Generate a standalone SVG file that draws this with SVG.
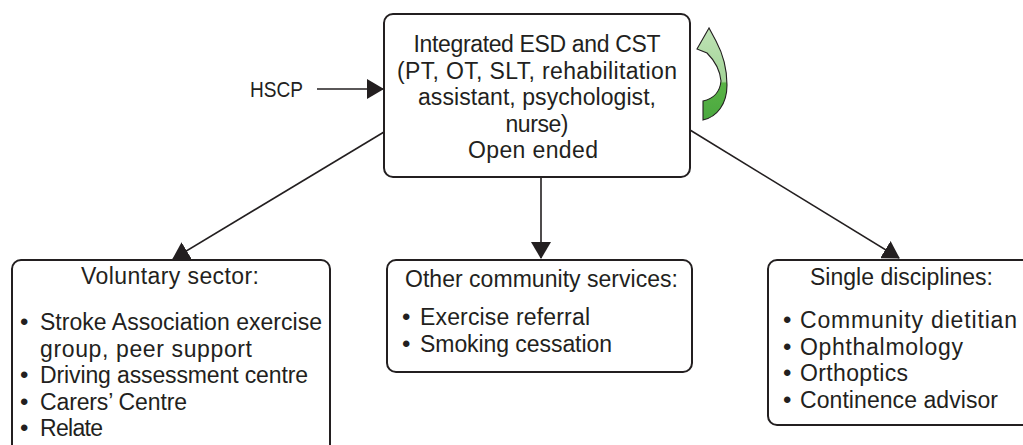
<svg xmlns="http://www.w3.org/2000/svg" width="1023" height="445" viewBox="0 0 1023 445">
<style>
  .box { fill: #ffffff; stroke: #231f20; stroke-width: 2; }
  .t { font-family: "Liberation Sans", Arial, sans-serif; font-size: 23px; fill: #231f20; }
  .b { font-size: 24px; }
  .c { text-anchor: middle; }
  .conn { stroke: #231f20; stroke-width: 1.6; fill: none; marker-end: url(#arr); }
</style>
<defs>
  <marker id="arr" viewBox="0 0 17 20" refX="16" refY="10" markerWidth="17" markerHeight="20" orient="auto" markerUnits="userSpaceOnUse">
    <path d="M0,0 L17,10 L0,20 Z" fill="#231f20"/>
  </marker>
  <linearGradient id="grn" x1="0" y1="0" x2="0" y2="1">
    <stop offset="0" stop-color="#bfe3b6"/>
    <stop offset="0.58" stop-color="#a3d497"/>
    <stop offset="0.6" stop-color="#5ab346"/>
    <stop offset="1" stop-color="#4aa83f"/>
  </linearGradient>
</defs>
<rect width="1023" height="445" fill="#ffffff"/>
<g id="connectors">
  <line class="conn" x1="317" y1="89" x2="383" y2="89"/>
  <line class="conn" x1="541" y1="177" x2="541" y2="258"/>
  <line class="conn" x1="384" y1="132" x2="173" y2="259"/>
  <line class="conn" x1="690" y1="130" x2="899" y2="258"/>
</g>
<g id="hscp">
  <text class="t" x="250" y="97" style="font-size:22px" textLength="53" lengthAdjust="spacingAndGlyphs">HSCP</text>
</g>
<g id="main">
  <rect class="box" x="384" y="14" width="306" height="163" rx="9"/>
  <text class="t c" x="537" y="52" textLength="247">Integrated ESD and CST</text>
  <text class="t c" x="537" y="78.5" textLength="280">(PT, OT, SLT, rehabilitation</text>
  <text class="t c" x="537" y="105" textLength="238">assistant, psychologist,</text>
  <text class="t c" x="537" y="131.5" textLength="63">nurse)</text>
  <text class="t c" x="533" y="158" textLength="130">Open ended</text>
</g>
<g id="loop-arrow">
  <path d="M709,28 L697,49 L707,53 C714,60 720,70 721,81 C720,92 713,99 703,101 L703,120 C717,117 727,104 727,85 C727,68 723,54 716,41 Z" fill="url(#grn)" stroke="#231f20" stroke-width="1.1"/>
</g>
<g id="voluntary">
  <rect class="box" x="12" y="260" width="318" height="200" rx="9"/>
  <text class="t c" x="170" y="284" textLength="178">Voluntary sector:</text>
  <text class="t" y="330"><tspan class="b" x="20">•</tspan><tspan x="40" textLength="282">Stroke Association exercise</tspan></text>
  <text class="t" x="40" y="356.5" textLength="212">group, peer support</text>
  <text class="t" y="383"><tspan class="b" x="20">•</tspan><tspan x="40" textLength="268">Driving assessment centre</tspan></text>
  <text class="t" y="409.5"><tspan class="b" x="20">•</tspan><tspan x="40" textLength="147">Carers’ Centre</tspan></text>
  <text class="t" y="436"><tspan class="b" x="20">•</tspan><tspan x="40" textLength="63">Relate</tspan></text>
</g>
<g id="community">
  <rect class="box" x="387" y="260" width="305" height="112" rx="9"/>
  <text class="t" x="405" y="287" textLength="273">Other community services:</text>
  <text class="t" y="325"><tspan class="b" x="402">•</tspan><tspan x="420" textLength="170">Exercise referral</tspan></text>
  <text class="t" y="351.5"><tspan class="b" x="402">•</tspan><tspan x="420" textLength="192">Smoking cessation</tspan></text>
</g>
<g id="single">
  <rect class="box" x="768" y="260" width="270" height="165" rx="9"/>
  <text class="t c" x="901.5" y="285" textLength="183">Single disciplines:</text>
  <text class="t" y="328"><tspan class="b" x="783">•</tspan><tspan x="800" textLength="217">Community dietitian</tspan></text>
  <text class="t" y="354.5"><tspan class="b" x="783">•</tspan><tspan x="800" textLength="163">Ophthalmology</tspan></text>
  <text class="t" y="381"><tspan class="b" x="783">•</tspan><tspan x="800" textLength="108">Orthoptics</tspan></text>
  <text class="t" y="407.5"><tspan class="b" x="783">•</tspan><tspan x="800" textLength="198">Continence advisor</tspan></text>
</g>
</svg>
